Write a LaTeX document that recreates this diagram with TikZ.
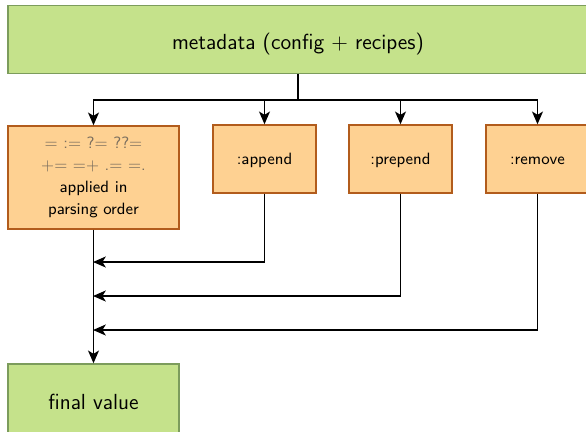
\documentclass[tikz,border=0pt]{standalone}
\usepackage{tikz}
\usetikzlibrary{arrows.meta,positioning}

\definecolor{boxorange}{RGB}{254,209,146}
\definecolor{boxbrown}{RGB}{178,92,28}
\definecolor{boxgreen}{RGB}{197,226,139}
\definecolor{greenline}{RGB}{124,156,92}
\definecolor{opgray}{RGB}{122,110,94}

\begin{document}
\begin{tikzpicture}[x=0.55pt,y=-0.55pt,font=\sffamily,
  every node/.style={inner sep=0pt},
  src/.style={draw=greenline,fill=boxgreen,line width=0.8pt,font=\sffamily\large},
  op/.style={draw=boxbrown,fill=boxorange,line width=0.8pt,font=\fontsize{9}{12}\sffamily\selectfont,align=center},
  conn/.style={line width=0.9pt,-{Stealth[length=7pt,width=6pt,inset=1.8pt]}}]
  \useasboundingbox (0,0) rectangle (586,431);

  \node[src,minimum width=580*0.55pt,minimum height=68*0.55pt,text height=11pt,text depth=0pt] (meta) at (298,39.5) {metadata (config + recipes)};
  \node[op,minimum width=171*0.55pt,minimum height=103*0.55pt] (ops) at (93.5,177.5)
       {{\color{opgray}= := ?= ??=}\\{\color{opgray}+= =+ .= =.}\\applied in\\parsing order};
  \node[op,minimum width=103*0.55pt,minimum height=68*0.55pt,text height=7.75pt,text depth=2.25pt] (app) at (264.5,159) {:append};
  \node[op,minimum width=103*0.55pt,minimum height=68*0.55pt,text height=7.75pt,text depth=2.25pt] (pre) at (400.5,159) {:prepend};
  \node[op,minimum width=103*0.55pt,minimum height=68*0.55pt,text height=7.75pt,text depth=2.25pt] (rem) at (537.5,159) {:remove};
  \node[src,minimum width=171*0.55pt,minimum height=76*0.55pt] (final) at (93.5,402) {final value};

  \coordinate (bus) at (298,100);
  \coordinate (j1)  at (93,262);
  \coordinate (j2)  at (93,296);
  \coordinate (j3)  at (93,330);

  \draw[line width=0.9pt] (meta.south) -- (bus);
  \draw[conn] (bus) -| (ops.north);
  \draw[conn] (bus) -| (app.north);
  \draw[conn] (bus) -| (pre.north);
  \draw[conn] (bus) -| (rem.north);

  \draw[conn] (ops.south) -- (final.north);
  \draw[conn] (app.south) |- (j1);
  \draw[conn] (pre.south) |- (j2);
  \draw[conn] (rem.south) |- (j3);
\end{tikzpicture}
\end{document}
